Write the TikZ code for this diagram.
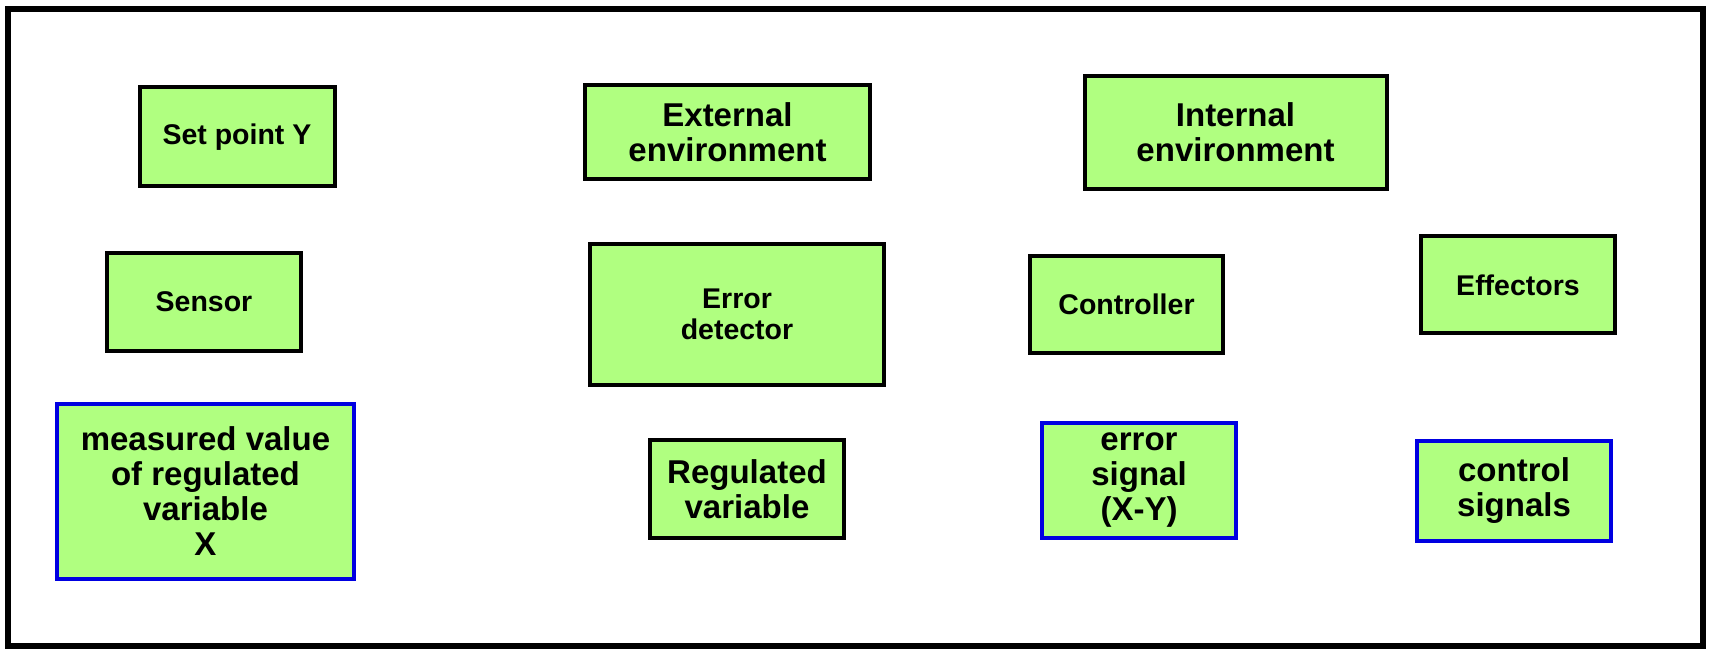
\documentclass[tikz,border=0pt]{standalone}
\usepackage{fontspec}
\setmainfont{Liberation Sans}
\usetikzlibrary{positioning}

\definecolor{boxgreen}{RGB}{176,255,128}
\definecolor{sigblue}{RGB}{0,0,225}

\tikzset{
    block/.style={draw=black, line width=4pt, fill=boxgreen, align=center, inner sep=2pt,
                  font=\bfseries\fontsize{33}{35}\selectfont},
    smalltext/.style={font=\bfseries\fontsize{28.5}{31}\selectfont},
    sigbox/.style={block, draw=sigblue},
}

\begin{document}
\begin{tikzpicture}[x=1pt, y=1pt]
        \useasboundingbox (0,0) rectangle (1709,651);
        \draw[line width=6pt] (7.5,5) rectangle (1703,642);

        % top row
        \node[block, smalltext, minimum width=195, minimum height=99] (1) at (237,514.3)   {Set point Y};
        \node[block, minimum width=285, minimum height=94]            (2) at (727.5,519)   {External\\environment};
        \node[block, minimum width=302, minimum height=113]           (3) at (1235.5,518.7) {Internal\\environment};

        % middle row
        \node[block, smalltext, minimum width=194, minimum height=98]  (4) at (204,349)    {Sensor};
        \node[block, smalltext, minimum width=294, minimum height=141] (5) at (737,336.5)  {Error\\detector};
        \node[block, smalltext, minimum width=193, minimum height=97]  (6) at (1126.5,346.5) {Controller};
        \node[block, smalltext, minimum width=194, minimum height=97]  (7) at (1518,366)   {Effectors};

        % bottom row
        \node[sigbox, minimum width=297, minimum height=175] (8)  at (205.5,159.5) {measured value\\of regulated\\variable\\X};
        \node[block,  minimum width=194, minimum height=98]  (9)  at (747,162)     {Regulated\\variable};
        \node[sigbox, minimum width=194, minimum height=115] (10) at (1139,170.5)  {error\\signal\\(X-Y)};
        \node[sigbox, minimum width=194, minimum height=100] (11) at (1514,160)    {control\\signals};
\end{tikzpicture}
\end{document}
